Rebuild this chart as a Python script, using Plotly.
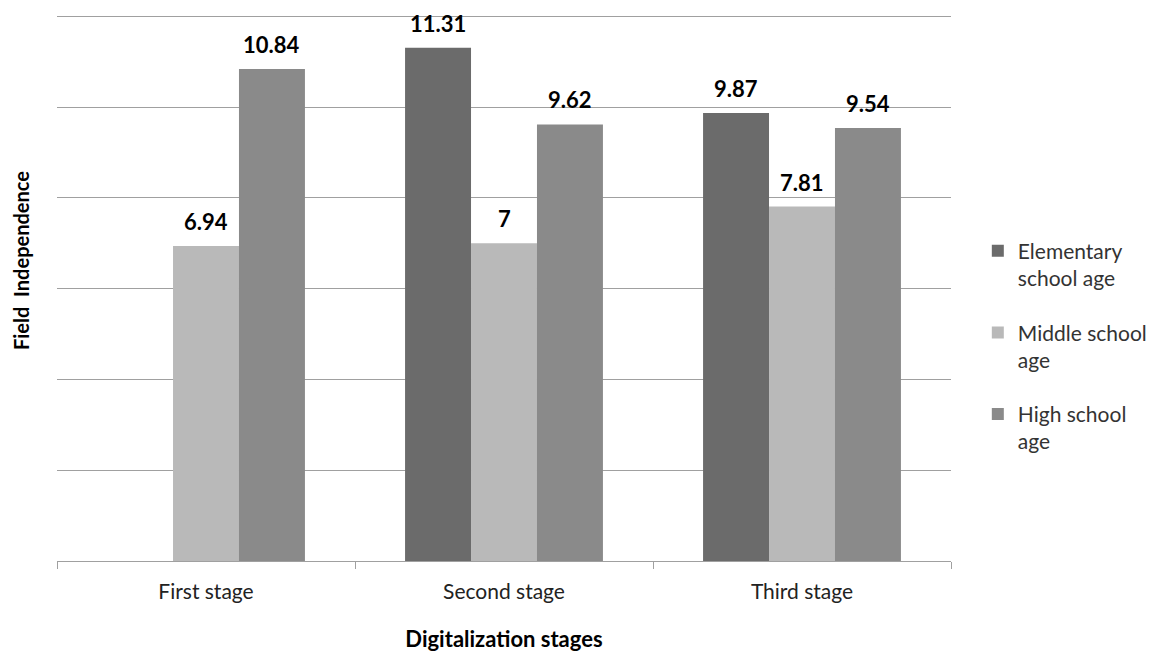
import plotly.graph_objects as go

# Digitalization stages and mean field-independence scores by age group
stages = ["First stage", "Second stage", "Third stage"]
elementary = [None, 11.31, 9.87]
middle = [6.94, 7.00, 7.81]
high = [10.84, 9.62, 9.54]
label_text = {
    "elementary": [None, "11.31", "9.87"],
    "middle": ["6.94", "7", "7.81"],
    "high": ["10.84", "9.62", "9.54"],
}
y_ticks = [0, 2, 4, 6, 8, 10, 12]

FONT = "Lato"
series = [
    ("Elementary<br>school age", elementary, "#6b6b6b", "elementary"),
    ("Middle school<br>age", middle, "#b9b9b9", "middle"),
    ("High school<br>age", high, "#8a8a8a", "high"),
]

BARGAP = 0.336
bar_w = (1 - BARGAP) / len(series)

fig = go.Figure()
annotations = []
for i, (name, vals, color, key) in enumerate(series):
    fig.add_trace(go.Bar(
        x=stages, y=vals, name=name, legendgroup=key,
        marker=dict(color=color, line=dict(width=0)),
    ))
    offset = (i - (len(series) - 1) / 2) * bar_w
    for j, (v, t) in enumerate(zip(vals, label_text[key])):
        if v is None:
            continue
        annotations.append(dict(
            x=j + offset, y=v, xref="x", yref="y",
            text="<b>%s</b>" % t, showarrow=False,
            yanchor="bottom", yshift=9,
            font=dict(family=FONT, size=22, color="#000000"),
        ))

# vertical axis title, placed a little above the plot's middle
annotations.append(dict(
    x=-0.041, y=0.55, xref="paper", yref="paper",
    text="<b>Field  Independence</b>", showarrow=False, textangle=-90,
    xanchor="center", yanchor="middle",
    font=dict(family=FONT, size=20, color="#000000"),
))

fig.update_layout(
    width=1155, height=652,
    margin=dict(l=57, r=204, t=15, b=91, autoexpand=False),
    paper_bgcolor="white", plot_bgcolor="white",
    barmode="group", bargap=BARGAP, bargroupgap=0,
    font=dict(family=FONT, color="#222222"),
    annotations=annotations,
    showlegend=True,
    legend=dict(
        x=1.030, y=0.605, xanchor="left", yanchor="top",
        font=dict(family=FONT, size=21, color="#333333"),
        valign="top", tracegroupgap=24, itemwidth=30,
        traceorder="grouped",
        bgcolor="rgba(0,0,0,0)",
    ),
)
fig.update_xaxes(
    automargin=False,
    showline=True, linecolor="#a0a0a0", linewidth=1,
    ticks="outside", tickson="boundaries", ticklen=7, tickcolor="#a0a0a0",
    ticklabelstandoff=12,
    tickfont=dict(family=FONT, size=21, color="#222222"),
    showgrid=False,
    title=dict(text="<b>Digitalization stages</b>", standoff=30,
               font=dict(family=FONT, size=22, color="#000000")),
)
fig.update_yaxes(
    automargin=False,
    range=[0, 12.03], tickvals=y_ticks, showticklabels=False,
    showgrid=True, gridcolor="#a0a0a0", gridwidth=1,
    showline=False, zeroline=False, ticks="",
)

fig.write_html("out.html")
